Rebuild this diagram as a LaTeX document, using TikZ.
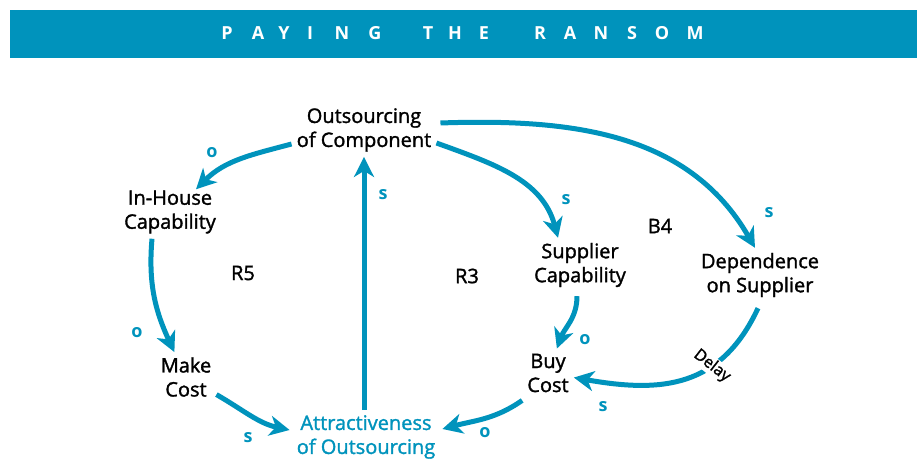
\documentclass[tikz,border=0pt]{standalone}
\usepackage{fontspec}
\setmainfont{Open Sans}
\usetikzlibrary{arrows.meta}
\definecolor{sysblue}{HTML}{0093BC}

\begin{document}
\begin{tikzpicture}[x=1pt,y=1pt,
    >={Stealth[length=20pt,width=20pt,inset=6pt]},
    every node/.style={inner sep=5pt},
    var/.style={align=center,font=\fontsize{20}{24}\selectfont\addfontfeature{FakeBold=1.5}},
    link/.style={->,line width=5pt,draw=sysblue},
    pol/.style={text=sysblue,font=\fontsize{18}{18}\selectfont\bfseries},
    loopname/.style={font=\fontsize{20}{20}\selectfont\addfontfeature{FakeBold=1.5}},
    headletter/.style={text=white,inner sep=0pt,anchor=base,
      font=\fontsize{18}{18}\selectfont\bfseries}]
  \useasboundingbox (0,0) rectangle (921,460);
  % title bar, one letter at a time
  \fill[sysblue] (10,402) rectangle (917,450);
  \foreach \ch/\x in {P/227,A/258,Y/284,I/310,N/342,G/375,
                      T/428,H/455,E/484,
                      R/540,A/570,N/601,S/632,O/662,M/695}
    \node[headletter] (head\x) at (\x,420) {\ch};
  % variables
  \node[var] (outs) at (364,330) {Outsourcing\\of Component};
  \node[var] (inhouse) at (170,248) {In-House\\Capability};
  \node[var] (make) at (186,83) {Make\\Cost};
  \node[var,text=sysblue] (attr) at (366,23) {Attractiveness\\of Outsourcing};
  \node[var] (supcap) at (580,195) {Supplier\\Capability};
  \node[var] (dep) at (760,185) {Dependence\\on Supplier};
  \node[var] (buy) at (548,87) {Buy\\Cost};
  % loop names
  \node[loopname] (r5) at (243,187) {R5};
  \node[loopname] (r3) at (467,184) {R3};
  \node[loopname] (b4) at (660,234) {B4};
  % links
  \draw[link] ([yshift=-14pt]outs.west) to[out=195,in=45] ([xshift=-25pt,yshift=-4pt]inhouse.north east);
  \draw[link] ([xshift=-18pt]inhouse.south) to[out=265,in=115] (make);
  \draw[link] (make) to[out=-30,in=168] ([xshift=-2pt,yshift=7pt]attr.west);
  \draw[link] (attr.north -| outs.south) -- (outs.south);
  \draw[link] ([yshift=-3pt]buy.south west) to[out=215,in=15] ([xshift=2pt,yshift=8pt]attr.east);
  \draw[link] ([yshift=-13pt]outs.east) to[out=-20,in=105] ([xshift=-22pt]supcap.north);
  \draw[link] ([xshift=4pt,yshift=7pt]outs.east) to[out=2,in=120] ([xshift=-5pt]dep.north);
  \draw[link] ([xshift=-3pt,yshift=-4pt]supcap.south) to[out=-90,in=70] (buy);
  \draw[link] ([xshift=-2pt,yshift=-6pt]dep.south) to[out=-115,in=-10,looseness=1.15]
    node[pos=0.34,rotate=-38,fill=white,inner sep=1pt,font=\fontsize{16}{16}\selectfont\addfontfeature{FakeBold=1.5}] (delay) {Delay} (buy);
  % polarities
  \node[pol] (p1) at (212,307) {o};
  \node[pol] (p2) at (137,127) {o};
  \node[pol] (p3) at (248,22) {s};
  \node[pol] (p4) at (383,265) {s};
  \node[pol] (p5) at (485,27) {o};
  \node[pol] (p6) at (566,260) {s};
  \node[pol] (p7) at (769,247) {s};
  \node[pol] (p8) at (585,120) {o};
  \node[pol] (p9) at (603,53) {s};
\end{tikzpicture}
\end{document}
